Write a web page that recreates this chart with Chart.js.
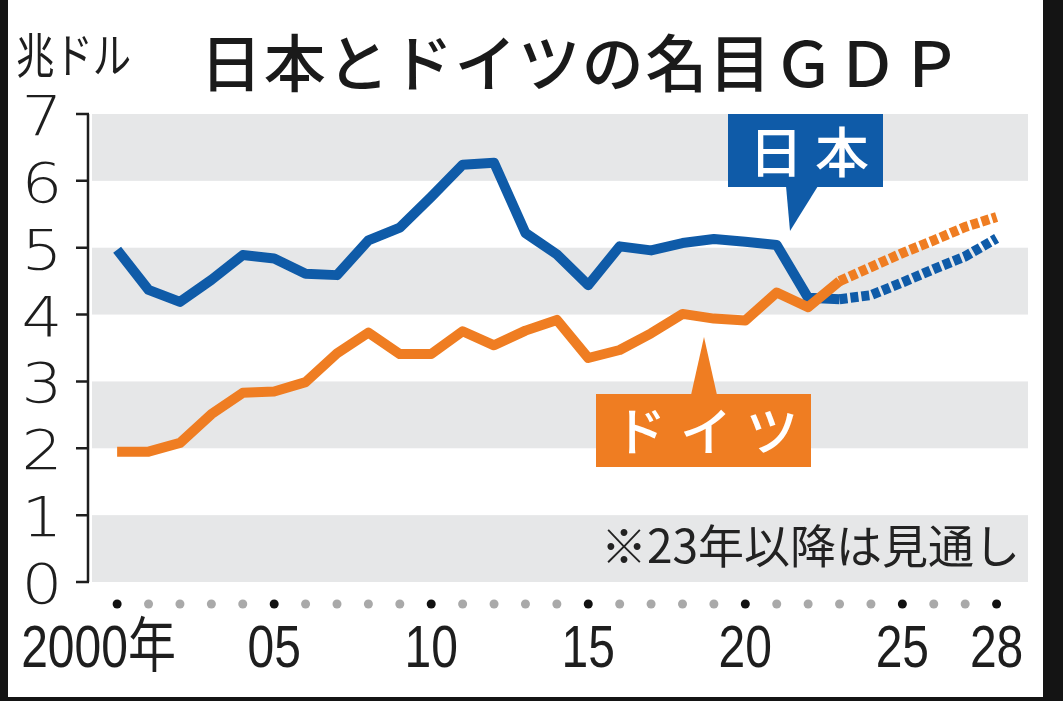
<!DOCTYPE html>
<html><head><meta charset="utf-8">
<script src="https://cdn.jsdelivr.net/npm/chart.js@4/dist/chart.umd.min.js"></script>
<style>html,body{margin:0;padding:0;background:#fff;overflow:hidden}canvas{display:block}</style>
</head><body>
<canvas id="c" width="1063" height="701" style="width:1063px;height:701px"></canvas>
<script>
// ---- data ----
const years = [2000,2001,2002,2003,2004,2005,2006,2007,2008,2009,2010,2011,2012,2013,2014,2015,2016,2017,2018,2019,2020,2021,2022,2023,2024,2025,2026,2027,2028];
const actualYears = [2000,2001,2002,2003,2004,2005,2006,2007,2008,2009,2010,2011,2012,2013,2014,2015,2016,2017,2018,2019,2020,2021,2022,2023];
const forecastYears = [2023,2024,2025,2026,2027,2028];
const japanActual = [4.97,4.37,4.19,4.52,4.89,4.84,4.61,4.59,5.11,5.30,5.76,6.24,6.27,5.22,4.90,4.44,5.02,4.96,5.07,5.13,5.09,5.04,4.25,4.23];
const japanForecast = [4.23,4.29,4.48,4.68,4.87,5.14];
const germanyActual = [1.95,1.95,2.08,2.51,2.83,2.85,2.99,3.42,3.73,3.41,3.41,3.75,3.54,3.76,3.92,3.35,3.47,3.72,4.01,3.94,3.91,4.33,4.11,4.50];
const germanyForecast = [4.50,4.71,4.92,5.11,5.31,5.46];
const xLabelYears = [2000,2005,2010,2015,2020,2025,2028];
const xLabelTexts = ['2000年','05','10','15','20','25','28'];
const yTickValues = [0,1,2,3,4,5,6,7];
const yTickLabels = ['0','1','2','3','4','5','6','7'];
const titleText = '日本とドイツの名目ＧＤＰ';
const unitText = '兆ドル';
const noteText = '※23年以降は見通し';
const japanLabel = '日本';
const germanyLabel = 'ドイツ';

// ---- styles ----
const BLUE = '#0f5ba8';
const ORANGE = '#ef7d22';
const BAND = '#e6e7e8';
const INK = '#1e1e1e';
const FRAME = '#141414';
const LINE_W = 10;

const pts = (xs, vs) => xs.map((x, i) => ({x: x, y: vs[i]}));

function spaced(ctx, str, x0, y, totalWidth) {
  const chars = Array.from(str);
  const widths = chars.map(c => ctx.measureText(c).width);
  const sum = widths.reduce((a, b) => a + b, 0);
  const gap = chars.length > 1 ? (totalWidth - sum) / (chars.length - 1) : 0;
  let cx = x0;
  ctx.textAlign = 'left';
  chars.forEach((c, i) => { ctx.fillText(c, cx, y); cx += widths[i] + gap; });
}

const decor = {
  id: 'decor',
  beforeDraw(chart) {
    const {ctx, chartArea: a, scales: {y}} = chart;
    ctx.save();
    ctx.fillStyle = '#fff';
    ctx.fillRect(0, 0, chart.width, chart.height);
    ctx.fillStyle = BAND;
    for (let v = 0; v < 7; v += 2) {
      const t = y.getPixelForValue(v + 1), b = y.getPixelForValue(v);
      ctx.fillRect(a.left, t, a.right - a.left, b - t);
    }
    ctx.restore();
  },
  afterDraw(chart) {
    const {ctx, scales: {x, y}} = chart;
    ctx.save();
    // y axis line + ticks
    ctx.strokeStyle = INK;
    ctx.lineWidth = 2.5;
    ctx.beginPath();
    ctx.moveTo(88, y.getPixelForValue(7));
    ctx.lineTo(88, y.getPixelForValue(0));
    yTickValues.forEach(v => {
      const py = y.getPixelForValue(v);
      ctx.moveTo(76, py); ctx.lineTo(89, py);
    });
    ctx.stroke();
    // y labels
    ctx.fillStyle = INK;
    ctx.font = '200 56px "DejaVu Sans", "Liberation Sans", sans-serif';
    ctx.textBaseline = 'alphabetic';
    ctx.textAlign = 'center';
    yTickValues.forEach((v, i) => {
      const py = y.getPixelForValue(v);
      ctx.save();
      ctx.translate(42, py + 21);
      ctx.scale(1.15, 1);
      ctx.fillText(yTickLabels[i], 0, 0);
      ctx.restore();
    });
    // x dots
    years.forEach(yr => {
      const major = (yr % 5 === 0) || yr === 2028;
      ctx.fillStyle = major ? '#111' : '#a9a9a9';
      ctx.beginPath();
      ctx.arc(x.getPixelForValue(yr), 604, 4.5, 0, Math.PI * 2);
      ctx.fill();
    });
    // x labels
    ctx.fillStyle = INK;
    ctx.font = '60px "Liberation Sans", "Noto Sans CJK JP", sans-serif';
    xLabelYears.forEach((yr, i) => {
      const px = x.getPixelForValue(yr);
      ctx.save();
      if (i === 0) {
        ctx.translate(px - 96, 667);
        ctx.scale(0.8, 1);
        ctx.textAlign = 'left';
      } else {
        ctx.translate(px, 667);
        ctx.scale(0.8, 1);
        ctx.textAlign = 'center';
      }
      ctx.fillText(xLabelTexts[i], 0, 0);
      ctx.restore();
    });
    // unit
    ctx.font = '48px "Noto Sans CJK JP", sans-serif';
    ctx.textBaseline = 'middle';
    ctx.textAlign = 'left';
    ctx.save();
    ctx.translate(16, 55);
    ctx.scale(0.8, 1);
    ctx.fillText(unitText, 0, 0);
    ctx.restore();
    // title
    ctx.font = '500 62px "Noto Sans CJK JP", sans-serif';
    ctx.fillStyle = '#1a1a1a';
    spaced(ctx, titleText, 200, 63, 762);
    // note
    ctx.font = '46px "Noto Sans CJK JP", sans-serif';
    ctx.fillStyle = '#222';
    ctx.textAlign = 'right';
    ctx.fillText(noteText, 1020, 546);
    // Japan label box
    ctx.fillStyle = BLUE;
    ctx.fillRect(728, 114, 155, 73);
    ctx.beginPath();
    ctx.moveTo(786, 186); ctx.lineTo(818, 186); ctx.lineTo(790, 231); ctx.closePath();
    ctx.fill();
    ctx.fillStyle = '#fff';
    ctx.font = '500 54px "Noto Sans CJK JP", sans-serif';
    ctx.textBaseline = 'middle';
    spaced(ctx, japanLabel, 749, 152, 120);
    // Germany label box
    ctx.fillStyle = ORANGE;
    ctx.fillRect(596, 394, 215, 73);
    ctx.beginPath();
    ctx.moveTo(691, 395); ctx.lineTo(717, 395); ctx.lineTo(704, 337); ctx.closePath();
    ctx.fill();
    ctx.fillStyle = '#fff';
    ctx.font = '500 52px "Noto Sans CJK JP", sans-serif';
    spaced(ctx, germanyLabel, 614, 431, 184);
    // dark frame
    ctx.fillStyle = FRAME;
    ctx.fillRect(0, 0, 8, chart.height);
    ctx.fillRect(1043, 0, chart.width - 1043, chart.height);
    ctx.fillRect(0, 697, chart.width, chart.height - 697);
    ctx.restore();
  }
};

function series(label, xs, vs, color, dashed, order) {
  return {
    label: label, data: pts(xs, vs), borderColor: color, backgroundColor: color,
    borderWidth: LINE_W, pointRadius: 0, tension: 0, fill: false,
    borderJoinStyle: dashed ? 'miter' : 'round', borderCapStyle: 'butt',
    borderDash: dashed ? [8, 3] : [], order: order
  };
}

new Chart(document.getElementById('c'), {
  type: 'line',
  data: {
    datasets: [
      series('ドイツ', actualYears, germanyActual, ORANGE, false, 0),
      series('ドイツ（見通し）', forecastYears, germanyForecast, ORANGE, true, 1),
      series('日本', actualYears, japanActual, BLUE, false, 2),
      series('日本（見通し）', forecastYears, japanForecast, BLUE, true, 3)
    ]
  },
  options: {
    responsive: false,
    animation: false,
    layout: {padding: {top: 114, right: 35, bottom: 0, left: 0}},
    plugins: {legend: {display: false}, tooltip: {enabled: false}, title: {display: false}},
    scales: {
      x: {type: 'linear', min: 1999.2, max: 2029, ticks: {display: false}, grid: {display: false}, border: {display: false},
          afterFit(s) { s.height = 119; }},
      y: {type: 'linear', min: 0, max: 7, ticks: {display: false, stepSize: 1}, grid: {display: false}, border: {display: false},
          afterFit(s) { s.width = 92; }}
    }
  },
  plugins: [decor]
});
</script>
</body></html>
